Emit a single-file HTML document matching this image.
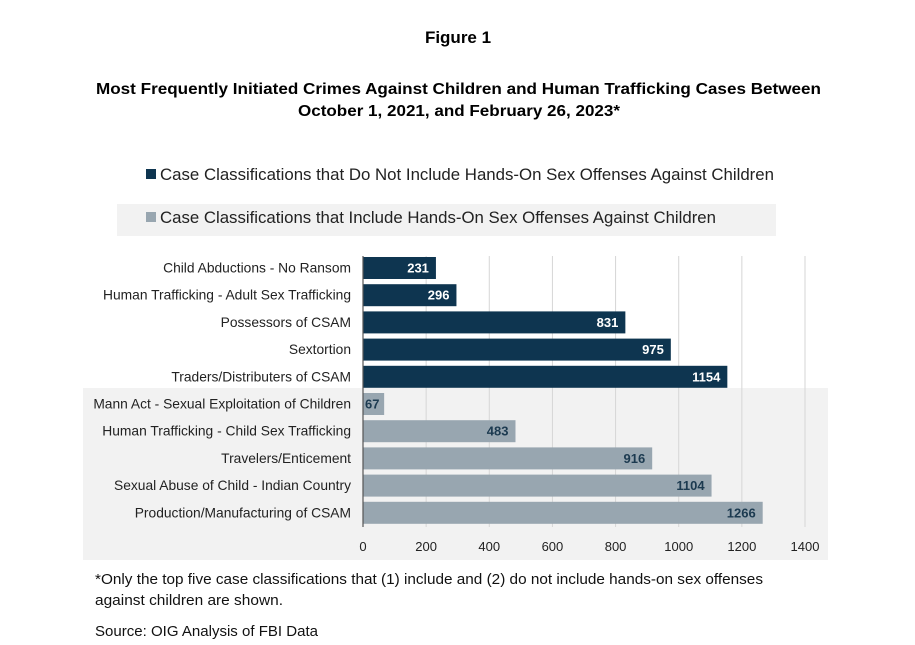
<!DOCTYPE html>
<html><head><meta charset="utf-8"><style>
body{margin:0;background:#fff;}
svg{display:block;font-family:"Liberation Sans",sans-serif;}
</style></head><body>
<svg id="c" width="915" height="645" viewBox="0 0 915 645">
<text x="458" y="43" text-anchor="middle" font-size="17" font-weight="bold" fill="#000">Figure 1</text>
<text x="96" y="94" textLength="725" lengthAdjust="spacingAndGlyphs" font-size="16" font-weight="bold" fill="#000">Most Frequently Initiated Crimes Against Children and Human Trafficking Cases Between</text>
<text x="298" y="116" textLength="322" lengthAdjust="spacingAndGlyphs" font-size="16" font-weight="bold" fill="#000">October 1, 2021, and February 26, 2023*</text>
<g>
<rect x="146" y="169" width="10" height="10" fill="#0e3550"/>
<text x="160" y="180" textLength="614" lengthAdjust="spacingAndGlyphs" font-size="16.5" fill="#222">Case Classifications that Do Not Include Hands-On Sex Offenses Against Children</text>
<rect x="117" y="204" width="659" height="32" fill="#f2f2f2"/>
<rect x="146" y="212" width="10" height="10" fill="#98a6b0"/>
<text x="160" y="223" textLength="556" lengthAdjust="spacingAndGlyphs" font-size="16.5" fill="#222">Case Classifications that Include Hands-On Sex Offenses Against Children</text>
</g>
<rect x="83" y="388" width="745" height="172" fill="#f2f2f2"/>
<g id="grid"></g><g id="bars"></g><g id="labels"></g><g id="ticks"></g>
<line x1="363" y1="256" x2="363" y2="527" stroke="#555" stroke-width="1.2"/>
<text x="95" y="584" textLength="668" lengthAdjust="spacingAndGlyphs" font-size="14.5" fill="#111">*Only the top five case classifications that (1) include and (2) do not include hands-on sex offenses</text>
<text x="95" y="605" textLength="188" lengthAdjust="spacingAndGlyphs" font-size="14.5" fill="#111">against children are shown.</text>
<text x="95" y="636" textLength="223" lengthAdjust="spacingAndGlyphs" font-size="14.5" fill="#111">Source:  OIG Analysis of FBI Data</text>
</svg>
<script>
const categories=["Child Abductions - No Ransom","Human Trafficking - Adult Sex Trafficking","Possessors of CSAM","Sextortion","Traders/Distributers of CSAM","Mann Act - Sexual Exploitation of Children","Human Trafficking - Child Sex Trafficking","Travelers/Enticement","Sexual Abuse of Child - Indian Country","Production/Manufacturing of CSAM"];
const values=[231,296,831,975,1154,67,483,916,1104,1266];
const groups=["non","non","non","non","non","hands","hands","hands","hands","hands"];
const tickValues=[0,200,400,600,800,1000,1200,1400];
const NS="http://www.w3.org/2000/svg";
const x0=363,x1=805,xMax=1400;
function xs(v){return x0+v/xMax*(x1-x0);}
function yc(i){return 268+i*27.2;}
function mk(t,a,p){const e=document.createElementNS(NS,t);for(const k in a)e.setAttribute(k,a[k]);p.appendChild(e);return e;}
const grid=document.getElementById('grid'),bars=document.getElementById('bars'),labels=document.getElementById('labels'),ticks=document.getElementById('ticks');
tickValues.forEach(v=>{
 if(v>0){const g=mk('line',{x1:xs(v),x2:xs(v),y1:256,y2:527,stroke:'#d6d6d6','stroke-width':1},grid);
 
 }
 const t=mk('text',{x:xs(v),y:551,'text-anchor':'middle','font-size':13,fill:'#222'},ticks);t.textContent=v;
 
 
});
categories.forEach((c,i)=>{
 const dark=groups[i]==="non";
 const r=mk('rect',{x:x0,y:yc(i)-11,width:xs(values[i])-x0,height:22,fill:dark?'#0e3550':'#98a6b0'},bars);
 
 
 const v=mk('text',{x:xs(values[i])-7,y:yc(i)+4.5,'text-anchor':'end','font-size':13,'font-weight':'bold',fill:dark?'#fff':'#1c3a50'},bars);v.textContent=values[i];
 if(values[i]<100){v.setAttribute('x',x0+2);v.setAttribute('text-anchor','start');}
 
 
 const l=mk('text',{x:351,y:yc(i)+4.5,'text-anchor':'end','font-size':13.8,fill:'#222'},labels);l.textContent=c;
 
 
});
</script>
</body></html>
